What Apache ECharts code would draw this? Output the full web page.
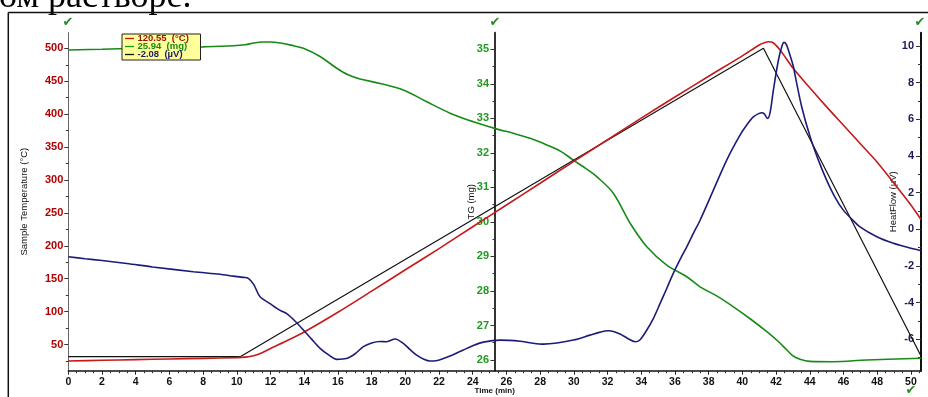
<!DOCTYPE html>
<html><head><meta charset="utf-8">
<script src="https://cdn.jsdelivr.net/npm/echarts@6/dist/echarts.min.js"></script>
<style>html,body{margin:0;padding:0;background:#fff;overflow:hidden}#c{width:928px;height:397px}</style>
</head><body><div id="c"></div><script>
// ---- data ----
const tempTime   = [0, 2, 4, 6, 8, 10, 10.5, 11, 11.5, 12, 13, 14, 16, 18, 20, 22, 24, 26, 28, 30, 32, 34, 36, 38, 40, 41, 41.3, 41.55, 41.85, 42.15, 42.45, 43, 44, 45, 46, 47, 48, 49, 50, 50.6];
const tempValues = [25, 26, 27, 28, 29, 30, 30.8, 33, 37.5, 44, 56, 69, 99, 131, 163.5, 195.7, 228.9, 262, 295, 328.3, 361, 394, 426, 457.5, 488.5, 505, 508.5, 510, 508, 500, 490, 470, 440, 411, 383, 355, 327, 295, 262, 240];

const progTime   = [0, 10.2, 41.25, 50.6];
const progValues = [31.5, 31.5, 500, 32.5];

const tgTime   = [0, 2, 4, 6, 8, 9.8, 10.5, 11, 11.5, 12, 12.6, 13.2, 13.95, 14.94, 15.93, 16.6, 17.31, 18.5, 19.88, 21.27, 22.65, 24.04, 25.5, 26.4, 27.4, 28.39, 29.2, 29.97, 30.7, 31.36, 32.34, 33.34, 34.33, 35.51, 36.7, 37.49, 38.5, 39.47, 40.5, 41.45, 42.1, 42.64, 43, 43.42, 44, 45.4, 47.38, 50.6];
const tgValues = [34.98, 35.0, 35.03, 35.05, 35.07, 35.1, 35.13, 35.18, 35.21, 35.21, 35.18, 35.12, 35.03, 34.79, 34.45, 34.26, 34.14, 34.01, 33.82, 33.48, 33.15, 32.9, 32.68, 32.57, 32.42, 32.23, 32.05, 31.79, 31.55, 31.31, 30.83, 29.96, 29.28, 28.75, 28.41, 28.12, 27.85, 27.54, 27.18, 26.82, 26.55, 26.29, 26.12, 26.02, 25.96, 25.95, 26.0, 26.05];

const hfTime   = [0, 1, 2, 3.47, 5, 7.42, 9, 9.8, 10.4, 10.68, 11, 11.38, 11.97, 12.57, 12.96, 13.45, 13.95, 14.45, 14.94, 15.45, 15.93, 16.5, 17, 17.51, 18, 18.5, 18.9, 19.39, 19.88, 20.27, 20.67, 21.1, 21.47, 21.9, 22.26, 22.8, 23.44, 24, 24.63, 25.62, 26.81, 27.5, 28.19, 29, 29.97, 30.96, 31.5, 32.05, 32.4, 32.74, 33.2, 33.63, 33.9, 34.33, 34.7, 35.12, 35.5, 35.9, 36.3, 36.7, 37.1, 37.49, 38.28, 39.07, 39.86, 40.3, 40.65, 41, 41.15, 41.3, 41.5, 41.65, 41.84, 42.14, 42.35, 42.47, 42.6, 42.73, 43.03, 43.13, 43.52, 44.02, 44.51, 45, 45.5, 45.99, 46.5, 46.98, 47.98, 48.96, 49.8, 50.6];
const hfValues = [-1.49, -1.6, -1.7, -1.86, -2.05, -2.31, -2.45, -2.55, -2.62, -2.67, -3.0, -3.68, -4.05, -4.42, -4.6, -5.0, -5.49, -6.0, -6.49, -6.85, -7.09, -7.05, -6.8, -6.4, -6.2, -6.12, -6.13, -5.98, -6.22, -6.55, -6.86, -7.08, -7.18, -7.15, -7.04, -6.85, -6.58, -6.35, -6.15, -6.04, -6.1, -6.2, -6.26, -6.2, -6.04, -5.77, -5.62, -5.53, -5.58, -5.71, -5.95, -6.13, -6.05, -5.49, -4.9, -4.04, -3.25, -2.4, -1.65, -0.95, -0.2, 0.5, 2.14, 3.78, 5.14, 5.75, 6.14, 6.33, 6.36, 6.3, 6.05, 6.4, 7.6, 9.24, 10.0, 10.2, 10.1, 9.78, 8.87, 8.4, 6.69, 5.05, 3.78, 2.69, 1.75, 1.05, 0.55, 0.14, -0.4, -0.76, -0.98, -1.17];

const xTicks      = [0, 2, 4, 6, 8, 10, 12, 14, 16, 18, 20, 22, 24, 26, 28, 30, 32, 34, 36, 38, 40, 42, 44, 46, 48, 50];
const tempTicks   = [50, 100, 150, 200, 250, 300, 350, 400, 450, 500];
const tgTicks     = [26, 27, 28, 29, 30, 31, 32, 33, 34, 35];
const hfTicks     = [-6, -4, -2, 0, 2, 4, 6, 8, 10];
const legendLabels = ['120.55  (°C)', '25.94  (mg)', '-2.08  (µV)'];
const titleText = 'ом растворе.';

// ---- helpers ----
const zip = (a, b) => a.map((v, i) => [v, b[i]]);
const minorBetween = (ticks, lo, hi, step) => {
  const out = [];
  for (let v = lo; v <= hi + 1e-9; v += step) {
    const r = Math.round(v * 1000) / 1000;
    if (!ticks.some(t => Math.abs(t - r) < 1e-6)) out.push(r);
  }
  return out;
};

const FONT = 'Liberation Sans, Arial, sans-serif';
const X0 = 68.3, XR = 921, Y0 = 32.7, YB = 370.7;
const W = 928, H = 397;

const xMinor = minorBetween(xTicks, 0, 50.5, 0.5);
const tempMinor = minorBetween(tempTicks, 25, 500, 25);
const tgMinor = minorBetween(tgTicks, 26, 35, 0.5);
const hfMinor = minorBetween(hfTicks, -7, 10, 1);

const TEMP_MIN = 10.2, TEMP_MAX = 523.7;
const TG_MIN = 25.69, TG_MAX = 35.48;
const HF_MIN = -7.71, HF_MAX = 10.73;

function yAx(opts) {
  const o = {
    type: 'value', position: 'left', offset: opts.offset, min: opts.min, max: opts.max,
    splitLine: { show: false },
    axisLine: { show: opts.line, onZero: false, lineStyle: { color: opts.lineColor || '#444', width: opts.lineWidth || 1 } },
    axisTick: { show: true, customValues: opts.ticks, length: opts.tickLen, lineStyle: { color: '#333', width: 1 } },
    axisLabel: opts.labels ? { show: true, customValues: opts.ticks, color: opts.labelColor, fontWeight: 'bold', fontSize: 11, fontFamily: FONT, margin: opts.margin } : { show: false }
  };
  if (opts.name) {
    o.name = opts.name; o.nameLocation = 'middle'; o.nameGap = opts.nameGap; o.nameMoveOverlap = false;
    o.nameTextStyle = { fontSize: 9.5, color: '#111', fontFamily: FONT };
  }
  return o;
}

const chart = echarts.init(document.getElementById('c'), null, { renderer: 'canvas' });

const lineSeries = (name, data, yIdx, color, width, smooth) => ({
  name, type: 'line', data, xAxisIndex: 0, yAxisIndex: yIdx, showSymbol: false, symbol: 'none',
  smooth: smooth, lineStyle: { color, width }, itemStyle: { color }, animation: false
});

const g = [];
// title text fragment at top
g.push({ type: 'text', x: -1, y: -2, z: 100, style: { text: titleText, font: '36px "Liberation Serif", "Times New Roman", serif', fill: '#000', align: 'left', verticalAlign: 'middle', textAlign: 'left', textVerticalAlign: 'middle' } });
// frame
g.push({ type: 'line', z: 100, shape: { x1: 8.3, y1: 12.5, x2: W, y2: 12.5 }, style: { stroke: '#111', lineWidth: 1.5 } });
g.push({ type: 'line', z: 100, shape: { x1: 8.3, y1: 12.5, x2: 8.3, y2: H }, style: { stroke: '#111', lineWidth: 1.5 } });
// check marks
[[68, 23], [495, 23], [920, 23], [911, 391]].forEach(p => {
  g.push({ type: 'text', x: p[0], y: p[1], z: 100, style: { text: '✔', font: 'bold 13px "DejaVu Sans", sans-serif', fill: '#2a8a2a', align: 'center', verticalAlign: 'middle', textAlign: 'center', textVerticalAlign: 'middle' } });
});
// legend box
g.push({ type: 'rect', z: 100, shape: { x: 122, y: 34, width: 78.5, height: 26 }, style: { fill: '#ffff99', stroke: '#222', lineWidth: 1 } });
const legColors = ['#d01818', '#1a9a1a', '#111111'];
const legTextColors = ['#9a1010', '#168a16', '#1a1a60'];
legendLabels.forEach((t, i) => {
  const yy = 38.5 + i * 8;
  g.push({ type: 'line', z: 101, shape: { x1: 125, y1: yy, x2: 134, y2: yy }, style: { stroke: legColors[i], lineWidth: 1.3 } });
  g.push({ type: 'text', x: 137.5, y: yy, z: 101, style: { text: t, font: 'bold 9.5px ' + FONT, fill: legTextColors[i], align: 'left', verticalAlign: 'middle', textAlign: 'left', textVerticalAlign: 'middle' } });
});

chart.setOption({
  animation: false,
  backgroundColor: '#fff',
  grid: { left: X0, right: W - XR, top: Y0, bottom: H - YB, outerBoundsMode: 'none', containLabel: false },
  xAxis: [
    { type: 'value', min: 0, max: 50.6, position: 'bottom',
      splitLine: { show: false },
      axisLine: { show: true, onZero: false, lineStyle: { color: '#111', width: 1.5 } },
      axisTick: { show: true, customValues: xTicks, length: 4, lineStyle: { color: '#222' } },
      axisLabel: { customValues: xTicks, color: '#111', fontWeight: 'bold', fontSize: 10.5, fontFamily: FONT, margin: 6 },
      name: 'Time (min)', nameLocation: 'middle', nameGap: 16, nameMoveOverlap: false,
      nameTextStyle: { fontSize: 8, fontWeight: 'bold', color: '#111', fontFamily: FONT } },
    { type: 'value', min: 0, max: 50.6, position: 'bottom',
      splitLine: { show: false }, axisLine: { show: false, onZero: false },
      axisTick: { show: true, customValues: xMinor, length: 2.5, lineStyle: { color: '#333' } },
      axisLabel: { show: false } }
  ],
  yAxis: [
    yAx({ offset: 0, min: TEMP_MIN, max: TEMP_MAX, line: true, lineColor: '#666', ticks: tempTicks, tickLen: 4, labels: true, labelColor: '#b00000', margin: 5, name: 'Sample Temperature (°C)', nameGap: 39 }),
    yAx({ offset: 0, min: TEMP_MIN, max: TEMP_MAX, line: false, ticks: tempMinor, tickLen: 2.5, labels: false }),
    yAx({ offset: -(495 - X0), min: TG_MIN, max: TG_MAX, line: true, lineColor: '#333', lineWidth: 2, ticks: tgTicks, tickLen: 4.5, labels: true, labelColor: '#1f9a1f', margin: 6, name: 'TG (mg)', nameGap: 19 }),
    yAx({ offset: -(495 - X0), min: TG_MIN, max: TG_MAX, line: false, ticks: tgMinor, tickLen: 2.5, labels: false }),
    yAx({ offset: -(XR - X0), min: HF_MIN, max: HF_MAX, line: true, lineColor: '#111', lineWidth: 2, ticks: hfTicks, tickLen: 5, labels: true, labelColor: '#1a1a5a', margin: 7, name: 'HeatFlow (µV)', nameGap: 23 }),
    yAx({ offset: -(XR - X0), min: HF_MIN, max: HF_MAX, line: false, ticks: hfMinor, tickLen: 3, labels: false })
  ],
  series: [
    lineSeries('TG', zip(tgTime, tgValues), 2, '#178a17', 1.6, 0.35),
    lineSeries('Program', zip(progTime, progValues), 0, '#111111', 1.2, false),
    lineSeries('Sample Temperature', zip(tempTime, tempValues), 0, '#c41a1a', 1.6, 0.3),
    lineSeries('HeatFlow', zip(hfTime, hfValues), 4, '#1c1c78', 1.6, 0.3)
  ],
  graphic: { elements: g }
});
</script></body></html>
